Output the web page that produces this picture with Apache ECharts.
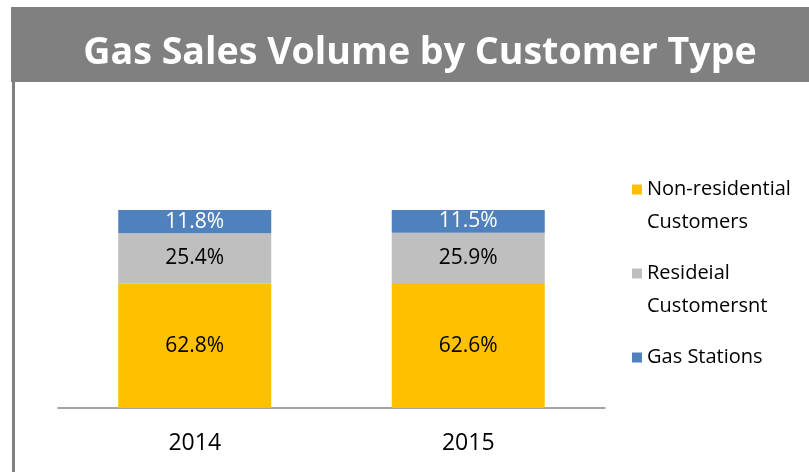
<!DOCTYPE html>
<html>
<head>
<meta charset="utf-8">
<script src="https://cdn.jsdelivr.net/npm/echarts@6/dist/echarts.min.js"></script>
<style>
html, body { margin: 0; padding: 0; background: #fff; }
#main { width: 809px; height: 472px; }
</style>
</head>
<body>
<div id="main"></div>
<script>
// data
var years = ['2014', '2015'];
var nonResidential = [62.8, 62.6];
var residential = [25.4, 25.9];
var gasStations = [11.8, 11.5];
var legendNames = ['Non-residential\nCustomers', 'Resideial\nCustomersnt', 'Gas Stations'];

var font = '"Open Sans", "Noto Sans", sans-serif';

var chart = echarts.init(document.getElementById('main'));

function seriesOf(name, data, color, labelColor) {
    return {
        name: name,
        type: 'bar',
        stack: 'total',
        data: data,
        barWidth: 153,
        itemStyle: { color: color },
        label: {
            show: true,
            position: 'inside',
            formatter: '{c}%',
            color: labelColor,
            fontFamily: font,
            fontSize: 21
        }
    };
}

var options = {
    animation: false,
    graphic: [
        {
            type: 'rect',
            shape: { x: 11, y: 7, width: 798, height: 75 },
            style: { fill: '#808080' }
        },
        {
            type: 'rect',
            shape: { x: 12, y: 82, width: 3, height: 390 },
            style: { fill: '#808080' }
        },
        {
            type: 'text',
            x: 420,
            y: 53,
            style: {
                text: 'Gas Sales Volume by Customer Type',
                fill: '#fff',
                font: 'bold 37.6px ' + font,
                align: 'center',
                verticalAlign: 'middle'
            }
        }
    ],
    legend: {
        orient: 'vertical',
        left: 627,
        top: 135,
        itemWidth: 10,
        itemHeight: 10,
        itemGap: -15,
        icon: 'rect',
        data: legendNames,
        // put the icon beside the first line of each name
        formatter: function (name) {
            var lines = name.split('\n');
            return lines.length > 1 ? ' \n' + name : ' \n' + name + '\n ';
        },
        textStyle: {
            fontFamily: font,
            fontSize: 20,
            color: '#000',
            lineHeight: 33
        }
    },
    grid: {
        left: 58,
        right: 204,
        top: 210,
        bottom: 64
    },
    xAxis: {
        type: 'category',
        data: years,
        axisTick: { show: false },
        axisLine: { lineStyle: { color: '#868686', width: 1.5 } },
        axisLabel: {
            color: '#000',
            fontFamily: font,
            fontSize: 23,
            margin: 24
        }
    },
    yAxis: {
        type: 'value',
        min: 0,
        max: 100,
        show: false
    },
    series: [
        seriesOf(legendNames[0], nonResidential, '#ffc000', '#000'),
        seriesOf(legendNames[1], residential, '#bfbfbf', '#000'),
        seriesOf(legendNames[2], gasStations, '#4f81bd', '#fff')
    ]
};

chart.setOption(options);
</script>
</body>
</html>
